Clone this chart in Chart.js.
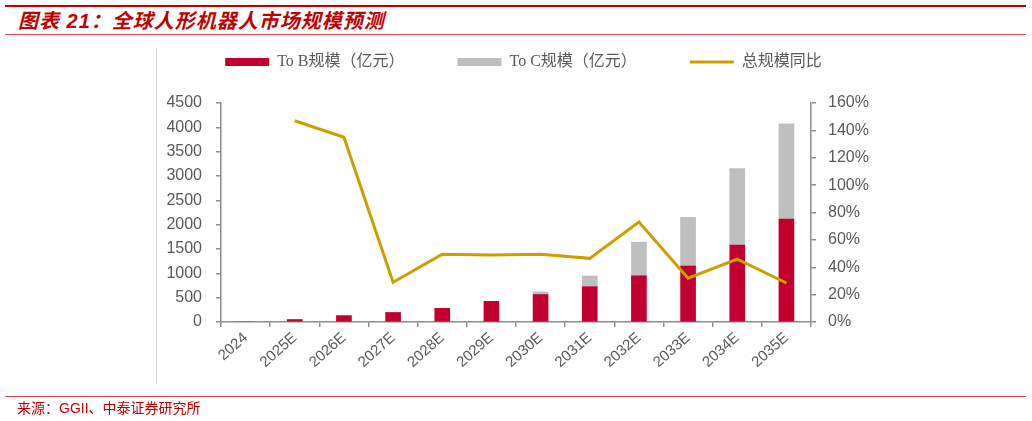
<!DOCTYPE html>
<html>
<head>
<meta charset="utf-8">
<script src="https://cdn.jsdelivr.net/npm/chart.js@4.4.1/dist/chart.umd.min.js"></script>
<style>
  body { margin: 0; background: #fff; width: 1032px; height: 421px; overflow: hidden; position: relative; }
  .rule { position: absolute; left: 5px; width: 1021px; background: #C00000; }
  #title { position: absolute; left: 18px; top: 8px; font-family: 'Liberation Sans', 'Noto Sans CJK SC', sans-serif;
           font-size: 20px; font-weight: bold; font-style: italic; color: #C00000; letter-spacing: 1px; line-height: 26px; white-space: nowrap; }
  #source { position: absolute; left: 17px; top: 399px; font-family: 'Liberation Sans', 'Noto Sans CJK SC', sans-serif;
            font-size: 14px; color: #C00000; line-height: 18px; white-space: nowrap; }
  #frame { position: absolute; left: 156px; top: 48px; width: 1px; height: 336px; background: #D9D9D9; }
  #price-chart { position: absolute; left: 0; top: 0; }
</style>
</head>
<body>
<div class="rule" style="top:5px;height:2px;"></div>
<div id="title">图表 21：全球人形机器人市场规模预测</div>
<div class="rule" style="top:34px;height:1px;background:#D84A4A;"></div>
<div id="frame"></div>
<canvas id="price-chart" width="1032" height="421"></canvas>
<div class="rule" style="top:396px;height:1px;background:#D84A4A;"></div>
<div id="source">来源：GGII、中泰证券研究所</div>

<script>
// values
const years = ['2024', '2025E', '2026E', '2027E', '2028E', '2029E', '2030E', '2031E', '2032E', '2033E', '2034E', '2035E'];
const toB = [0, 50, 130, 195, 280, 425, 565, 725, 950, 1150, 1580, 2115];
const toC = [0, 0, 0, 0, 0, 0, 55, 220, 690, 1000, 1575, 1955];
const yoy = [null, 147, 135, 29, 49.5, 49, 49.5, 46.5, 73, 32, 46, 28.5];

const seriesNames = ['To B规模（亿元）', 'To C规模（亿元）', '总规模同比'];
const leftTicks = [0, 4500, 500];
const rightTicks = [0, 160, 20];

const RED = '#C20030';
const GREY = '#BFBFBF';
const GOLD = '#C9A000';
const AXIS = '#8C8C8C';
const TEXT = '#595959';

// push the plot area down under the legend
const legendSpacer = {
    id: 'legendSpacer',
    beforeInit(chart) {
        const fit = chart.legend.fit;
        chart.legend.fit = function () {
            fit.bind(chart.legend)();
            this.height = 102;
        };
    }
};

const ctx = document.getElementById('price-chart').getContext('2d');

new Chart(ctx, {
    type: 'bar',
    data: {
        labels: years,
        datasets: [
            {
                label: seriesNames[0],
                data: toB,
                backgroundColor: RED,
                borderWidth: 0,
                barThickness: 15,
                yAxisID: 'y',
                order: 1
            },
            {
                label: seriesNames[1],
                data: toC,
                backgroundColor: GREY,
                borderWidth: 0,
                barThickness: 15,
                yAxisID: 'y',
                order: 1
            },
            {
                type: 'line',
                label: seriesNames[2],
                data: yoy,
                borderColor: GOLD,
                backgroundColor: GOLD,
                borderWidth: 3,
                pointRadius: 0,
                tension: 0,
                yAxisID: 'y1',
                order: 0
            }
        ]
    },
    options: {
        responsive: false,
        animation: false,
        layout: { padding: { left: 160, right: 145, top: 1, bottom: 30 } },
        plugins: {
            tooltip: { enabled: false },
            legend: {
                position: 'top',
                labels: {
                    usePointStyle: true,
                    pointStyleWidth: 44,
                    boxHeight: 8,
                    padding: 53,
                    color: TEXT,
                    font: { family: "'Liberation Serif', 'Noto Sans CJK SC', serif", size: 16 },
                    generateLabels(chart) {
                        return chart.data.datasets.map((ds, i) => ({
                            text: ds.label,
                            datasetIndex: i,
                            fillStyle: ds.type === 'line' ? GOLD : ds.backgroundColor,
                            strokeStyle: ds.type === 'line' ? GOLD : ds.backgroundColor,
                            lineWidth: ds.type === 'line' ? 3 : 0,
                            pointStyle: ds.type === 'line' ? 'line' : 'rect',
                            fontColor: TEXT,
                            hidden: false
                        }));
                    }
                }
            }
        },
        scales: {
            x: {
                stacked: true,
                afterFit(scale) { scale.height = 69; },
                border: { display: true, color: AXIS, width: 1.5 },
                grid: { display: true, drawOnChartArea: false, drawTicks: true, tickLength: 5, color: AXIS, lineWidth: 1.5, offset: true },
                ticks: {
                    color: TEXT,
                    font: { family: "'Liberation Sans', Arial, sans-serif", size: 15 },
                    maxRotation: 42,
                    minRotation: 42,
                    padding: 2,
                    autoSkip: false
                }
            },
            y: {
                stacked: true,
                position: 'left',
                min: leftTicks[0],
                max: leftTicks[1],
                afterFit(scale) { scale.width = 61; },
                border: { display: true, color: AXIS, width: 1.5 },
                grid: { display: true, drawOnChartArea: false, drawTicks: true, tickLength: 5, color: AXIS, lineWidth: 1.5 },
                ticks: {
                    stepSize: leftTicks[2],
                    color: TEXT,
                    padding: 14,
                    font: { family: "'Liberation Sans', Arial, sans-serif", size: 16 },
                    callback: v => String(v)
                }
            },
            y1: {
                position: 'right',
                min: rightTicks[0],
                max: rightTicks[1],
                afterFit(scale) { scale.width = 76; },
                border: { display: true, color: AXIS, width: 1.5 },
                grid: { display: true, drawOnChartArea: false, drawTicks: true, tickLength: 5, color: AXIS, lineWidth: 1.5 },
                ticks: {
                    stepSize: rightTicks[2],
                    color: TEXT,
                    padding: 12,
                    font: { family: "'Liberation Sans', Arial, sans-serif", size: 16 },
                    callback: v => v + '%'
                }
            }
        }
    },
    plugins: [legendSpacer]
});
</script>
</body>
</html>
